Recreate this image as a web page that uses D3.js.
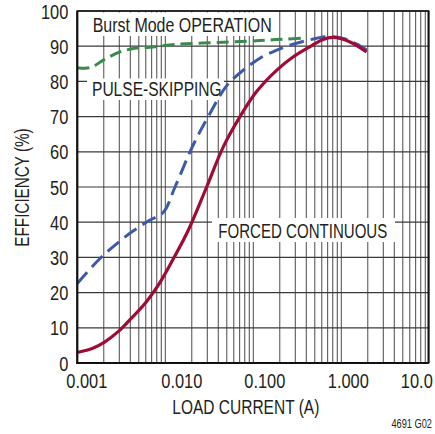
<!DOCTYPE html>
<html><head><meta charset="utf-8">
<script src="https://cdnjs.cloudflare.com/ajax/libs/d3/7.8.5/d3.min.js"></script>
<style>
body{margin:0;background:#fff;}
svg{display:block;}
text{font-family:"Liberation Sans",Arial,sans-serif;fill:#231f20;}
</style></head>
<body>
<script>
// ---- data ----
const xTickValues = [0.001, 0.01, 0.1, 1, 10];
const xTickLabels = ["0.001", "0.010", "0.100", "1.000", "10.0"];
const yTickValues = [0, 10, 20, 30, 40, 50, 60, 70, 80, 90, 100];

const forcedCurrent = [0.001, 0.0015, 0.002, 0.003, 0.004, 0.006, 0.009, 0.0124, 0.0183, 0.0295, 0.0456, 0.0706, 0.109, 0.185, 0.285, 0.441, 0.62, 0.8, 1.0, 1.256, 1.5, 1.94];
const forcedEff     = [3, 4.2, 5.8, 9.2, 12.4, 17.2, 23.5, 29.7, 37.8, 50, 61.4, 70, 77.1, 83.2, 87, 89.9, 91.9, 92.5, 92.1, 91.2, 90.2, 88.4];

const pulseCurrent = [0.001, 0.00181, 0.003, 0.0043, 0.0067, 0.0095, 0.0129, 0.0208, 0.0322, 0.0499, 0.077, 0.119, 0.185, 0.261, 0.405, 0.682, 1.054, 1.5, 1.94];
const pulseEff     = [22.6, 29.7, 34.5, 37.5, 40.6, 42.8, 50, 62, 70.9, 78.8, 83.2, 86.6, 88.9, 90.3, 91.6, 92.7, 92.2, 90.6, 88.9];

const burstCurrent = [0.001, 0.0014, 0.002, 0.003, 0.0045, 0.0067, 0.0129, 0.0456, 0.119, 0.219, 0.405];
const burstEff     = [83.9, 83.9, 86.1, 88.3, 89.4, 89.7, 90.5, 91.1, 91.6, 92.0, 92.3];

const seriesLabels = ["Burst Mode OPERATION", "PULSE-SKIPPING", "FORCED CONTINUOUS"];
const xTitle = "LOAD CURRENT (A)";
const yTitle = "EFFICIENCY (%)";
const figId = "4691 G02";

// ---- layout ----
const W = 435, H = 434;
const L = 77.3, R = 429.3, T = 11, B = 363;
const SQ = 0.82; // horizontal condensing of the font

const svg = d3.select("body").append("svg").attr("width", W).attr("height", H);
const x = d3.scaleLog().domain([0.001, 10]).range([L, R]);
const y = d3.scaleLinear().domain([0, 100]).range([B, T]);

function condense(sel, width) {
  sel.each(function () {
    const w = width != null ? width : this.getComputedTextLength() * SQ;
    d3.select(this).attr("textLength", w).attr("lengthAdjust", "spacingAndGlyphs");
  });
}

// grid
const minor = [];
for (let e = -3; e <= 0; e++) for (let k = 1; k <= 9; k++) minor.push(k * Math.pow(10, e));
minor.push(10);
const g = svg.append("g");
g.selectAll("line.v").data(minor).enter().append("line")
  .attr("x1", d => x(d)).attr("x2", d => x(d)).attr("y1", T).attr("y2", B)
  .attr("stroke", "#4a4a4a").attr("stroke-width", 1);
g.selectAll("line.h").data(yTickValues).enter().append("line")
  .attr("x1", L).attr("x2", R).attr("y1", d => y(d)).attr("y2", d => y(d))
  .attr("stroke", "#3a3a3a").attr("stroke-width", 1.2);

// label boxes
const boxes = [
  {x0: 86, y0: 12.5, x1: 277, y1: 36, tx: 92.7, ty: 32.3, w: 179, t: seriesLabels[0]},
  {x0: 87, y0: 78.5, x1: 224, y1: 100, tx: 92, ty: 96, w: 129.7, t: seriesLabels[1]},
  {x0: 212, y0: 218, x1: 395, y1: 242, tx: 218.3, ty: 238.3, w: 169, t: seriesLabels[2]}
];
svg.selectAll("rect.box").data(boxes).enter().append("rect")
  .attr("x", d => d.x0).attr("y", d => d.y0).attr("width", d => d.x1 - d.x0).attr("height", d => d.y1 - d.y0)
  .attr("fill", "#fff");
svg.selectAll("text.lab").data(boxes).enter().append("text")
  .attr("x", d => d.tx).attr("y", d => d.ty).attr("font-size", 20).text(d => d.t)
  .attr("textLength", d => d.w).attr("lengthAdjust", "spacingAndGlyphs");

// curves
const line = d3.line().x(d => x(d[0])).y(d => y(d[1])).curve(d3.curveCatmullRom.alpha(0.5));
const zip = (a, b) => a.map((v, i) => [v, b[i]]);
svg.append("path").datum(zip(burstCurrent, burstEff)).attr("d", line)
  .attr("fill", "none").attr("stroke", "#3b8a4c").attr("stroke-width", 3).attr("stroke-dasharray", "12,6");
svg.append("path").datum(zip(pulseCurrent, pulseEff)).attr("d", line)
  .attr("fill", "none").attr("stroke", "#3d5aa9").attr("stroke-width", 3).attr("stroke-dasharray", "15,7");
svg.append("path").datum(zip(forcedCurrent, forcedEff)).attr("d", line)
  .attr("fill", "none").attr("stroke", "#9e0b34").attr("stroke-width", 3.2);

// frame
svg.append("rect").attr("x", L).attr("y", T).attr("width", R - L - 1).attr("height", B - T)
  .attr("fill", "none").attr("stroke", "#111").attr("stroke-width", 1.6);
svg.append("line").attr("x1", L).attr("x2", L).attr("y1", T).attr("y2", B + 1).attr("stroke", "#111").attr("stroke-width", 2);
svg.append("line").attr("x1", L - 1).attr("x2", R - 1).attr("y1", B).attr("y2", B).attr("stroke", "#111").attr("stroke-width", 2);

// axes
const xLabelShift = [9, 16, 11, 6.5, -13];
const xa = svg.append("g").attr("transform", `translate(0,${B})`)
  .call(d3.axisBottom(x).tickValues(xTickValues).tickFormat((d, i) => xTickLabels[i]).tickSize(0).tickPadding(8));
xa.select(".domain").remove();
xa.selectAll("text").attr("font-size", 20).attr("fill", "#231f20")
  .attr("font-family", "'Liberation Sans',Arial,sans-serif")
  .attr("dy", null).attr("y", 25).attr("dx", (d, i) => xLabelShift[i]);
condense(xa.selectAll("text"));

const ya = svg.append("g").attr("transform", `translate(${L},0)`)
  .call(d3.axisLeft(y).tickValues(yTickValues).tickSize(0).tickPadding(9));
ya.select(".domain").remove();
ya.selectAll("text").attr("font-size", 20).attr("fill", "#231f20")
  .attr("font-family", "'Liberation Sans',Arial,sans-serif")
  .attr("dy", "0.35em");
condense(ya.selectAll("text"));

// titles
svg.append("text").attr("x", 245.8).attr("y", 414).attr("text-anchor", "middle").attr("font-size", 20).text(xTitle)
  .attr("textLength", 147).attr("lengthAdjust", "spacingAndGlyphs");
svg.append("text").attr("transform", "translate(29,187.5) rotate(-90)").attr("text-anchor", "middle").attr("font-size", 20).text(yTitle)
  .attr("textLength", 118.4).attr("lengthAdjust", "spacingAndGlyphs");
svg.append("text").attr("x", 432).attr("y", 428.3).attr("text-anchor", "end").attr("font-size", 12.5).text(figId)
  .attr("textLength", 40.6).attr("lengthAdjust", "spacingAndGlyphs");
</script>
</body></html>
